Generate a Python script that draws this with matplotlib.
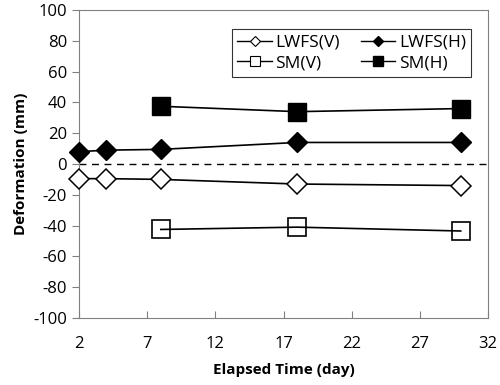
import matplotlib
matplotlib.use('Agg')
import matplotlib.pyplot as plt
from matplotlib.lines import Line2D

plt.rcParams['font.family'] = ['Open Sans', 'DejaVu Sans']
plt.rcParams['axes.unicode_minus'] = False

days_lwfs = [2, 4, 8, 18, 30]
lwfs_v = [-9.5, -9.5, -10, -13, -14]
lwfs_h = [8, 9, 9.5, 14, 14]

days_sm = [8, 18, 30]
sm_v = [-42.5, -41, -43.5]
sm_h = [37.5, 34, 36]

xticks = [2, 7, 12, 17, 22, 27, 32]
yticks = list(range(-100, 101, 20))

fig = plt.figure(figsize=(5, 3.85), dpi=100)
ax = fig.add_axes([0.158, 0.174, 0.818, 0.8])

ax.axhline(0, color='black', lw=1, ls=(0, (5, 4)), zorder=1)

ax.plot(days_lwfs, lwfs_v, color='black', lw=1.2, marker='D', ms=10.5,
        mfc='white', mec='black', mew=1.1, zorder=3, clip_on=False)
ax.plot(days_lwfs, lwfs_h, color='black', lw=1.2, marker='D', ms=10.5,
        mfc='black', mec='black', zorder=3, clip_on=False)
ax.plot(days_sm, sm_v, color='black', lw=1.2, marker='s', ms=13.5,
        mfc='none', mec='black', mew=1.2, zorder=3, clip_on=False)
ax.plot(days_sm, sm_h, color='black', lw=1.2, marker='s', ms=13.5,
        mfc='black', mec='black', zorder=3, clip_on=False)

ax.set_xlim(2, 32)
ax.set_ylim(-100, 100)
ax.set_xticks(xticks)
ax.set_yticks(yticks)
ax.tick_params(axis='x', direction='in', length=5, color='#808080', labelsize=12, pad=13)
ax.tick_params(axis='y', direction='out', length=5, color='#808080', labelsize=12)
for s in ax.spines.values():
    s.set_color('#808080')

ax.set_xlabel('Elapsed Time (day)', fontsize=11, fontweight='bold', labelpad=8)
ax.set_ylabel('Deformation (mm)', fontsize=11, fontweight='bold', labelpad=4)

handles = [
    Line2D([], [], color='black', lw=1, marker='D', ms=5, mfc='white', mec='black', mew=0.8),
    Line2D([], [], color='black', lw=1, marker='s', ms=7, mfc='white', mec='black', mew=0.8),
    Line2D([], [], color='black', lw=1, marker='D', ms=5, mfc='black', mec='black'),
    Line2D([], [], color='black', lw=1, marker='s', ms=7, mfc='black', mec='black'),
]
labels = ['LWFS(V)', 'SM(V)', 'LWFS(H)', 'SM(H)']
leg = ax.legend(handles, labels, ncol=2, loc='upper right', bbox_to_anchor=(0.98, 0.965),
                fontsize=12.5, frameon=True, fancybox=False, edgecolor='black',
                handlelength=2.0, handletextpad=0.2, columnspacing=1.2,
                labelspacing=0.25, borderpad=0.3)
leg.get_frame().set_linewidth(0.8)

fig.savefig('out.png', dpi=100)
